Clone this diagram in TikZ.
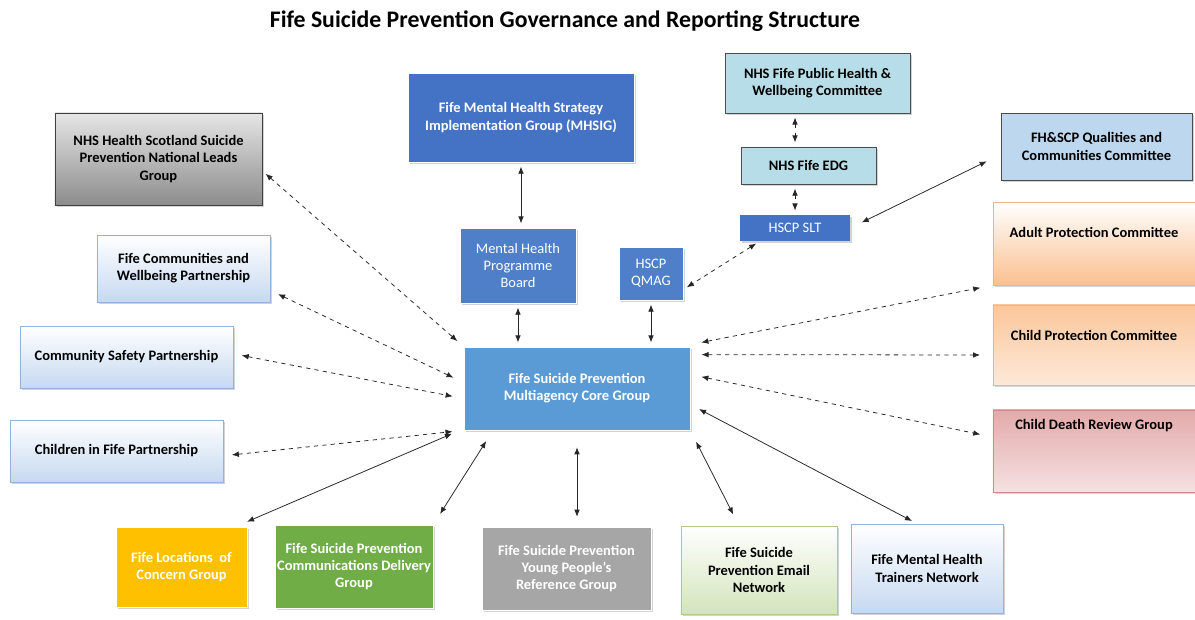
\documentclass[tikz,border=0pt]{standalone}
\usepackage{fontspec}
\setmainfont{Carlito}
\usepackage{xcolor}
\usepackage{tikz}
\usetikzlibrary{arrows.meta}
\usetikzlibrary{shadows}

\definecolor{stratblue}{HTML}{4472C4}
\definecolor{boardblue}{HTML}{4F7FC9}
\definecolor{coreblue}{HTML}{5B9BD5}
\definecolor{nhscyan}{HTML}{B7DEE8}
\definecolor{qualblue}{HTML}{BDD7EE}
\definecolor{paleblue}{HTML}{C6D9F1}
\definecolor{paleedge}{HTML}{95B3D7}
\definecolor{peach}{HTML}{FAC090}
\definecolor{peachedge}{HTML}{F5B383}
\definecolor{rose}{HTML}{E3AAAA}
\definecolor{roseedge}{HTML}{D48A8A}
\definecolor{gold}{HTML}{FFC000}
\definecolor{leaf}{HTML}{70AD47}
\definecolor{palegreen}{HTML}{D3E4BC}
\definecolor{greenedge}{HTML}{A9CB8C}

\begin{document}
\begin{tikzpicture}[x=0.025cm,y=-0.025cm,
    grp/.style={draw, align=center, inner sep=1pt,
      font=\bfseries\fontsize{10.3}{12.2}\selectfont,
      drop shadow={shadow xshift=1.5pt, shadow yshift=-1.5pt, opacity=0.35}},
    solidblue/.style={grp, fill=#1, draw=white, text=white},
    plainblue/.style={solidblue=#1, font=\fontsize{10.3}{12.2}\selectfont},
    paleblue/.style={grp, draw=paleedge, top color=white, bottom color=paleblue},
    link/.style={{Latex[length=5pt,width=4pt]}-{Latex[length=5pt,width=4pt]},
      black!85, line width=0.55pt, shorten <=3pt, shorten >=3pt},
    dlink/.style={link, dashed}]

  \useasboundingbox (0,0) rectangle (1195,619);

  \node[font=\bfseries\fontsize{16.9}{19}\selectfont] (title) at (565,21)
    {Fife Suicide Prevention Governance and Reporting Structure};

  % left column
  \node[grp, draw=black!75, shading=axis, top color=black!10, middle color=white,
    bottom color=black!45, minimum width=5.18cm, minimum height=2.3cm]
    (hscot) at (158.5,159) {NHS Health Scotland Suicide\\Prevention National Leads\\Group};
  \node[paleblue, minimum width=4.33cm, minimum height=1.68cm]
    (cwp) at (183.5,268.5) {Fife Communities and\\Wellbeing Partnership};
  \node[paleblue, minimum width=5.33cm, minimum height=1.55cm]
    (csp) at (126.5,357) {Community Safety Partnership};
  \node[paleblue, minimum width=5.33cm, minimum height=1.55cm]
    (cifp) at (116.5,451) {Children in Fife Partnership};

  % mental health strategy chain
  \node[solidblue=stratblue, minimum width=5.65cm, minimum height=2.23cm]
    (mhsig) at (521,117.5) {Fife Mental Health Strategy\\Implementation Group (MHSIG)};
  \node[plainblue=boardblue, minimum width=2.9cm, minimum height=1.88cm]
    (mhpb) at (518,265.5) {Mental Health\\Programme\\Board};
  \node[plainblue=boardblue, minimum width=1.6cm, minimum height=1.33cm]
    (qmag) at (651,273.5) {HSCP\\QMAG};

  % NHS / HSCP chain
  \node[grp, fill=nhscyan, draw=black!70, minimum width=4.63cm, minimum height=1.5cm]
    (phw) at (817.5,83) {NHS Fife Public Health \&\\Wellbeing Committee};
  \node[grp, fill=nhscyan, draw=black!70, minimum width=3.38cm, minimum height=0.93cm]
    (edg) at (808.5,165.5) {NHS Fife EDG};
  \node[plainblue=stratblue, draw=none, minimum width=2.75cm, minimum height=0.65cm]
    (slt) at (795,228) {HSCP SLT};
  \node[grp, fill=qualblue, draw=black!70, minimum width=4.78cm, minimum height=1.68cm]
    (fhscp) at (1096.5,146.5) {FH\&SCP Qualities and\\Communities Committee};

  % right column, text near the top
  \node[grp, draw=peachedge, top color=white, bottom color=peach, inner ysep=0pt,
    minimum width=5.05cm, text height=0.875cm, text depth=1.2cm]
    (apc) at (1094,243.5) {Adult Protection Committee};
  \node[grp, draw=peachedge, top color=peach!90, bottom color=peach!35, inner ysep=0pt,
    minimum width=5.05cm, text height=0.875cm, text depth=1.125cm]
    (cpc) at (1094,345) {Child Protection Committee};
  \node[grp, draw=roseedge, top color=rose, bottom color=rose!35, inner ysep=0pt,
    minimum width=5.05cm, text height=0.475cm, text depth=1.575cm]
    (cdrg) at (1094,451) {Child Death Review Group};

  \node[solidblue=coreblue, minimum width=5.65cm, minimum height=2.08cm]
    (core) at (577,388.5) {Fife Suicide Prevention\\Multiagency Core Group};

  % bottom row
  \node[solidblue=gold, minimum width=3.28cm, minimum height=2cm]
    (loc) at (181.5,567) {Fife Locations\ \ of\\Concern Group};
  \node[solidblue=leaf, minimum width=3.95cm, minimum height=2.08cm]
    (comms) at (354,566.5) {Fife Suicide Prevention\\Communications Delivery\\Group};
  \node[solidblue=black!35, minimum width=4.23cm, minimum height=2.08cm]
    (yprg) at (566.5,568.5) {Fife Suicide Prevention\\Young People's\\Reference Group};
  \node[grp, draw=greenedge, top color=white, bottom color=palegreen,
    minimum width=3.9cm, minimum height=2.2cm]
    (email) at (759,570) {Fife Suicide\\Prevention Email\\Network};
  \node[paleblue, minimum width=3.8cm, minimum height=2.23cm]
    (mhtn) at (927,568.5) {Fife Mental Health\\Trainers Network};

  % reporting lines
  \draw[link] (mhsig) -- (mhsig |- mhpb.north);
  \draw[link] (mhpb) -- (mhpb |- core.north);
  \draw[link] (qmag) -- (qmag |- core.north);
  \draw[dlink] (phw.south -| slt) -- (edg.north -| slt);
  \draw[dlink] (edg.south -| slt) -- (slt);
  \draw[link, shorten <=9pt, shorten >=11pt] (slt.east) -- ([yshift=-0.2cm]fhscp.west);
  \draw[dlink] ([xshift=0.5cm]slt.south west) -- ([yshift=-0.4cm]qmag.east);

  \draw[dlink, shorten >=6pt] ([yshift=-0.3cm]hscot.east) -- (core.north west);
  \draw[dlink, shorten <=6pt, shorten >=8pt] ([yshift=-0.55cm]cwp.east) -- ([yshift=0.15cm]core.west);
  \draw[dlink, shorten <=6pt, shorten >=8pt] ([yshift=0.08cm]csp.east) -- ([yshift=-0.25cm]core.west);
  \draw[dlink, shorten <=6pt, shorten >=8pt] ([yshift=-0.12cm]cifp.east) -- (core.south west);

  \draw[link, shorten <=9pt, shorten >=6pt] ([xshift=-0.3cm]loc.north east) -- ([xshift=-0.1cm]core.south west);
  \draw[link, shorten <=9pt, shorten >=9pt] (comms.north east) -- ([xshift=-2.1cm]core.south);
  \draw[link, shorten <=12pt, shorten >=7pt] (core) -- (core |- yprg.north);
  \draw[link, shorten <=9pt, shorten >=9pt] (core.south east) -- ([xshift=-0.5cm]email.north);
  \draw[link, shorten <=7pt, shorten >=4pt] ([yshift=-0.4cm]core.east) -- ([xshift=-0.25cm]mhtn.north);

  \draw[dlink, shorten <=8pt, shorten >=9pt] ([yshift=0.05cm]core.north east) -- (apc.south west);
  \draw[dlink, shorten <=8pt, shorten >=9pt] ([yshift=-0.2cm]core.north east) -- ([yshift=-0.25cm]cpc.west);
  \draw[dlink, shorten <=8pt, shorten >=9pt] ([yshift=0.35cm]core.east) -- ([yshift=0.35cm]cdrg.west);
\end{tikzpicture}
\end{document}
